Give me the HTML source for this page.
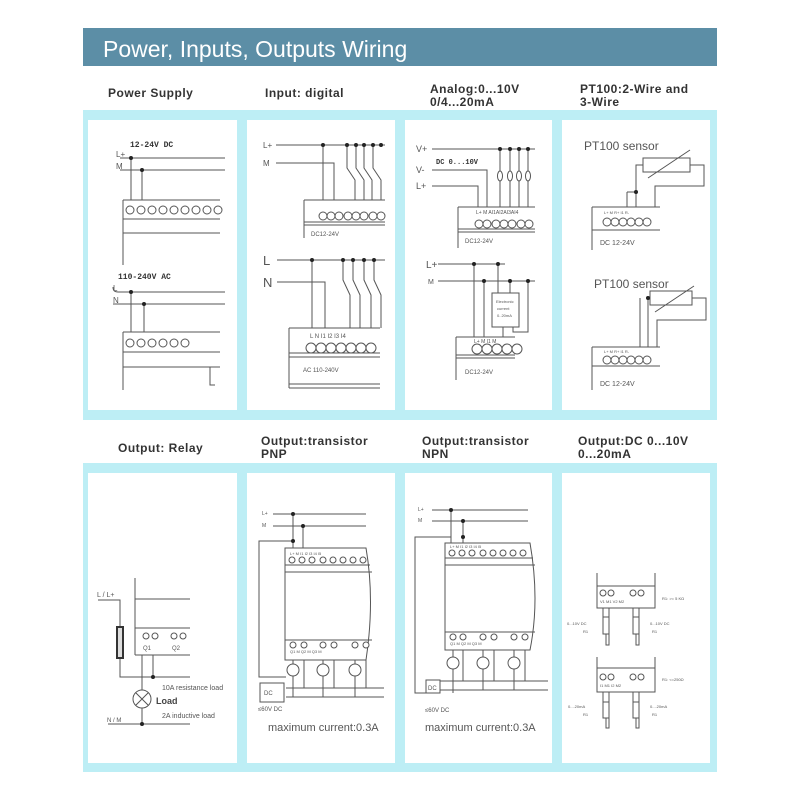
<!DOCTYPE html>
<html><head><meta charset="utf-8"><style>
html,body{margin:0;padding:0;background:#fff;}
svg{display:block;}
.lb{font-family:"Liberation Sans",sans-serif;font-weight:bold;font-size:12px;letter-spacing:0.5px;fill:#333;}
.t{font-family:"Liberation Sans",sans-serif;fill:#555;}
.m{font-family:"Liberation Mono",monospace;font-weight:bold;fill:#333;}
</style></head><body>
<svg width="800" height="800" viewBox="0 0 800 800" xmlns="http://www.w3.org/2000/svg">
<rect width="800" height="800" fill="#fff"/>
<rect x="83" y="28" width="634" height="38" fill="#5c8ea6"/>
<text x="103" y="57" font-family="Liberation Sans,sans-serif" font-size="23" fill="#fff">Power, Inputs, Outputs Wiring</text>

<text class="lb" x="108" y="97">Power Supply</text>
<text class="lb" x="265" y="97">Input: digital</text>
<text class="lb" x="430" y="93">Analog:0...10V</text>
<text class="lb" x="430" y="106">0/4...20mA</text>
<text class="lb" x="580" y="93">PT100:2-Wire and</text>
<text class="lb" x="580" y="106">3-Wire</text>
<text class="lb" x="118" y="452">Output: Relay</text>
<text class="lb" x="261" y="445">Output:transistor</text>
<text class="lb" x="261" y="458">PNP</text>
<text class="lb" x="422" y="445">Output:transistor</text>
<text class="lb" x="422" y="458">NPN</text>
<text class="lb" x="578" y="445">Output:DC 0...10V</text>
<text class="lb" x="578" y="458">0...20mA</text>

<rect x="83" y="110" width="634" height="310" fill="#bdeef5"/>
<rect x="83" y="463" width="634" height="309" fill="#bdeef5"/>
<g fill="#fff">
<rect x="88" y="120" width="149" height="290"/><rect x="247" y="120" width="148" height="290"/>
<rect x="405" y="120" width="147" height="290"/><rect x="562" y="120" width="148" height="290"/>
<rect x="88" y="473" width="149" height="290"/><rect x="247" y="473" width="148" height="290"/>
<rect x="405" y="473" width="147" height="290"/><rect x="562" y="473" width="148" height="290"/>
</g>

<g stroke="#555" stroke-width="1" fill="none">
<path d="M120 158H225M120 170H225M131 158V200M142 170V200M123 200H220M123 219H220M123 233H220M123 200V265"/>
<path d="M113 287Q113 292 118 292H225M113 304H225M131 292V332M144 304V332M123 332H220M123 352H220M123 367H220M123 332V390M210 367V385H215"/>
<path d="M276 145H385M276 163H334V200M323 145V200M304 200H385M304 222H385M304 225H385M304 200V238"/>
<path d="M347 145V168L355 180V200M356 145V168L364 180V200M364 145V168L372 180V200M373 145V168L381 180V200"/>
<path d="M277 260H385M277 282H325V328M312 260V328M289 328H380M289 353H380M289 357H380M289 384H380M289 388H380M289 328V388"/>
<path d="M343 260V280L350 295V328M353 260V280L360 295V328M364 260V280L371 295V328M374 260V280L381 295V328"/>
<path d="M432 149H535M432 170H487V207M432 186H478V207M458 207H535M458 229H535M458 232H535M458 207V248"/>
<path d="M500 149V207M510 149V207M519 149V207M528 149V207"/>
<path d="M438 264H505M438 281H535M474 264V337M484 281V337M498 264V293M510 281V293M528 281V332H513V327M456 337H515M456 355H515M456 358H515M456 337V380M503 327V337"/>
<rect x="492" y="293" width="27" height="34"/>
<rect x="643" y="158" width="47" height="14"/>
<path d="M648 178L690 150M643 165H636V207M690 165H704V186H655V207M627 192H636M627 192V207M592 207H660M592 230H660M592 207V250"/>
<rect x="650" y="291" width="42" height="14"/>
<path d="M655 312L694 286M650 298H648V347M640 298V347M692 298H706V320H657V347M592 347H660M592 366H660M592 347V390"/>
<path d="M135 578V655M135 599H190M135 628H190M135 655H190M98 600H120V677H190M142 655V690M153 655V677M142 708V724M108 724H190"/>
<circle cx="142" cy="699" r="9"/><path d="M136 693L148 705M148 693L136 705"/>
<path d="M273 514H366M273 526H366M293 514V548M303 526V548M293 541H259V677H286"/>
<path d="M285 548H366Q375 600 366 660H285ZM285 565H370M285 572H372M285 640H372"/>
<path d="M293 660V664M293 676V697M304 660V688M323 660V664M323 676V697M334 660V688M355 660V664M355 676V697M366 660V688M286 688H384M286 697H384"/>
<circle cx="293" cy="670" r="6"/><circle cx="323" cy="670" r="6"/><circle cx="355" cy="670" r="6"/>
<rect x="260" y="683" width="24" height="19"/>
<path d="M432 510H528M432 521H528M451 510V543M463 521V543M451 537H415V693H440"/>
<path d="M445 543H530Q540 600 530 650H445ZM445 558H533M445 565H535M445 632H535"/>
<path d="M453 650V657M453 669V693M463 650V681M483 650V657M483 669V690M494 650V681M514 650V657M514 669V690M525 650V681M440 681H548M440 690H548"/>
<circle cx="453" cy="663" r="6"/><circle cx="483" cy="663" r="6"/><circle cx="514" cy="663" r="6"/>
<rect x="426" y="680" width="14" height="13"/>
<path d="M597 573V608H655V573M597 586H655M603 608V617M609 608V617M633 608V617M639 608V617M606 634V645H609V634M636 634V645H639V634"/>
<rect x="603" y="617" width="6" height="17"/><rect x="633" y="617" width="6" height="17"/>
<path d="M597 657V692H655V657M597 668H655M603 692V702M609 692V702M633 692V702M639 692V702M606 718V728H609V718M636 718V728H639V718"/>
<rect x="603" y="702" width="6" height="16"/><rect x="633" y="702" width="6" height="16"/>
</g>
<rect x="117" y="627" width="6" height="31" fill="#ddd" stroke="#333" stroke-width="2"/>

<g fill="#222">
<circle cx="131" cy="158" r="2"/><circle cx="142" cy="170" r="2"/><circle cx="131" cy="292" r="2"/><circle cx="144" cy="304" r="2"/>
<circle cx="323" cy="145" r="2"/><circle cx="347" cy="145" r="2"/><circle cx="356" cy="145" r="2"/><circle cx="364" cy="145" r="2"/><circle cx="373" cy="145" r="2"/><circle cx="381" cy="145" r="2"/>
<circle cx="312" cy="260" r="2"/><circle cx="343" cy="260" r="2"/><circle cx="353" cy="260" r="2"/><circle cx="364" cy="260" r="2"/><circle cx="374" cy="260" r="2"/>
<circle cx="500" cy="149" r="2"/><circle cx="510" cy="149" r="2"/><circle cx="519" cy="149" r="2"/><circle cx="528" cy="149" r="2"/>
<circle cx="474" cy="264" r="2"/><circle cx="498" cy="264" r="2"/><circle cx="484" cy="281" r="2"/><circle cx="510" cy="281" r="2"/><circle cx="528" cy="281" r="2"/>
<circle cx="636" cy="192" r="2"/><circle cx="648" cy="298" r="2"/>
<circle cx="153" cy="677" r="2"/><circle cx="142" cy="724" r="2"/>
<circle cx="293" cy="514" r="2"/><circle cx="303" cy="526" r="2"/><circle cx="293" cy="541" r="2"/>
<circle cx="451" cy="510" r="2"/><circle cx="463" cy="521" r="2"/><circle cx="463" cy="537" r="2"/>
</g>
<g fill="#fff" stroke="#555">
<circle cx="130" cy="210" r="4"/><circle cx="141" cy="210" r="4"/><circle cx="152" cy="210" r="4"/><circle cx="163" cy="210" r="4"/><circle cx="174" cy="210" r="4"/><circle cx="185" cy="210" r="4"/><circle cx="196" cy="210" r="4"/><circle cx="207" cy="210" r="4"/><circle cx="218" cy="210" r="4"/>
<circle cx="130" cy="343" r="4"/><circle cx="141" cy="343" r="4"/><circle cx="152" cy="343" r="4"/><circle cx="163" cy="343" r="4"/><circle cx="174" cy="343" r="4"/><circle cx="185" cy="343" r="4"/>
<circle cx="323" cy="216" r="4"/><circle cx="331" cy="216" r="4"/><circle cx="339" cy="216" r="4"/><circle cx="348" cy="216" r="4"/><circle cx="356" cy="216" r="4"/><circle cx="364" cy="216" r="4"/><circle cx="373" cy="216" r="4"/><circle cx="381" cy="216" r="4"/>
<circle cx="311" cy="348" r="5"/><circle cx="321" cy="348" r="5"/><circle cx="331" cy="348" r="5"/><circle cx="341" cy="348" r="5"/><circle cx="351" cy="348" r="5"/><circle cx="361" cy="348" r="5"/><circle cx="371" cy="348" r="5"/>
<circle cx="479" cy="224" r="4"/><circle cx="487" cy="224" r="4"/><circle cx="496" cy="224" r="4"/><circle cx="504" cy="224" r="4"/><circle cx="512" cy="224" r="4"/><circle cx="521" cy="224" r="4"/><circle cx="529" cy="224" r="4"/>
<ellipse cx="500" cy="176" rx="2.5" ry="5"/><ellipse cx="510" cy="176" rx="2.5" ry="5"/><ellipse cx="519" cy="176" rx="2.5" ry="5"/><ellipse cx="528" cy="176" rx="2.5" ry="5"/>
<circle cx="477" cy="349" r="5"/><circle cx="487" cy="349" r="5"/><circle cx="497" cy="349" r="5"/><circle cx="507" cy="349" r="5"/><circle cx="517" cy="349" r="5"/>
<circle cx="607" cy="222" r="4"/><circle cx="615" cy="222" r="4"/><circle cx="623" cy="222" r="4"/><circle cx="631" cy="222" r="4"/><circle cx="639" cy="222" r="4"/><circle cx="647" cy="222" r="4"/>
<circle cx="607" cy="360" r="4"/><circle cx="615" cy="360" r="4"/><circle cx="623" cy="360" r="4"/><circle cx="631" cy="360" r="4"/><circle cx="639" cy="360" r="4"/><circle cx="647" cy="360" r="4"/>
<circle cx="146" cy="636" r="3"/><circle cx="155" cy="636" r="3"/><circle cx="174" cy="636" r="3"/><circle cx="183" cy="636" r="3"/>
<circle cx="292" cy="560" r="3"/><circle cx="302" cy="560" r="3"/><circle cx="312" cy="560" r="3"/><circle cx="323" cy="560" r="3"/><circle cx="333" cy="560" r="3"/><circle cx="343" cy="560" r="3"/><circle cx="353" cy="560" r="3"/><circle cx="363" cy="560" r="3"/>
<circle cx="293" cy="645" r="3"/><circle cx="304" cy="645" r="3"/><circle cx="323" cy="645" r="3"/><circle cx="334" cy="645" r="3"/><circle cx="355" cy="645" r="3"/><circle cx="366" cy="645" r="3"/>
<circle cx="452" cy="553" r="3"/><circle cx="462" cy="553" r="3"/><circle cx="472" cy="553" r="3"/><circle cx="483" cy="553" r="3"/><circle cx="493" cy="553" r="3"/><circle cx="503" cy="553" r="3"/><circle cx="513" cy="553" r="3"/><circle cx="523" cy="553" r="3"/>
<circle cx="453" cy="637" r="3"/><circle cx="463" cy="637" r="3"/><circle cx="483" cy="637" r="3"/><circle cx="494" cy="637" r="3"/><circle cx="514" cy="637" r="3"/><circle cx="525" cy="637" r="3"/>
<circle cx="603" cy="593" r="3"/><circle cx="611" cy="593" r="3"/><circle cx="633" cy="593" r="3"/><circle cx="641" cy="593" r="3"/>
<circle cx="603" cy="677" r="3"/><circle cx="611" cy="677" r="3"/><circle cx="633" cy="677" r="3"/><circle cx="641" cy="677" r="3"/>
</g>

<text class="m" x="130" y="147" font-size="8">12-24V DC</text>
<text class="t" x="116" y="157" font-size="8">L+</text><text class="t" x="116" y="169" font-size="8">M</text>
<text class="m" x="118" y="279" font-size="8">110-240V AC</text>
<text class="t" x="113" y="291" font-size="8">L</text><text class="t" x="113" y="303" font-size="8">N</text>
<text class="t" x="263" y="148" font-size="8">L+</text><text class="t" x="263" y="166" font-size="8">M</text>
<text class="t" x="311" y="236" font-size="6">DC12-24V</text>
<text class="t" x="263" y="265" font-size="13">L</text><text class="t" x="263" y="287" font-size="13">N</text>
<text class="t" x="310" y="338" font-size="6">L  N    I1 I2 I3 I4</text>
<text class="t" x="303" y="372" font-size="6">AC 110-240V</text>
<text class="t" x="416" y="152" font-size="9">V+</text><text class="t" x="416" y="173" font-size="9">V-</text><text class="t" x="416" y="189" font-size="9">L+</text>
<text class="m" x="436" y="164" font-size="7">DC 0...10V</text>
<text class="t" x="476" y="214" font-size="5">L+ M   AI1AI2AI3AI4</text>
<text class="t" x="465" y="243" font-size="6">DC12-24V</text>
<text class="t" x="426" y="268" font-size="10">L+</text><text class="t" x="428" y="284" font-size="7">M</text>
<text class="t" x="496" y="303" font-size="4">Electronic</text><text class="t" x="497" y="310" font-size="4">current</text><text class="t" x="497" y="317" font-size="4">0..20mA</text>
<text class="t" x="474" y="343" font-size="5">L+ M       I1 M</text>
<text class="t" x="465" y="374" font-size="6">DC12-24V</text>
<text class="t" x="584" y="150" font-size="12">PT100 sensor</text>
<text class="t" x="604" y="214" font-size="4">L+  M     R+ I1 R-</text>
<text class="t" x="600" y="245" font-size="7">DC 12-24V</text>
<text class="t" x="594" y="288" font-size="12">PT100 sensor</text>
<text class="t" x="604" y="353" font-size="4">L+  M     R+ I1 R-</text>
<text class="t" x="600" y="386" font-size="7">DC 12-24V</text>
<text class="t" x="97" y="597" font-size="7">L  / L+</text>
<text class="t" x="143" y="650" font-size="6">Q1</text><text class="t" x="172" y="650" font-size="6">Q2</text>
<text class="t" x="162" y="690" font-size="7">10A resistance load</text>
<text x="156" y="704" font-family="Liberation Sans,sans-serif" font-weight="bold" font-size="9" fill="#444">Load</text>
<text class="t" x="162" y="718" font-size="7">2A inductive load</text>
<text class="t" x="107" y="722" font-size="6">N / M</text>
<text class="t" x="262" y="515" font-size="5">L+</text><text class="t" x="262" y="527" font-size="5">M</text>
<text class="t" x="290" y="555" font-size="4">L+  M      I1 I2 I3 I4 I5</text>
<text class="t" x="290" y="653" font-size="4">Q1  M      Q2  M      Q3  M</text>
<text class="t" x="264" y="695" font-size="6">DC</text>
<text class="t" x="258" y="711" font-size="6">≤60V  DC</text>
<text class="t" x="268" y="731" font-size="11">maximum current:0.3A</text>
<text class="t" x="418" y="511" font-size="5">L+</text><text class="t" x="418" y="522" font-size="5">M</text>
<text class="t" x="450" y="548" font-size="4">L+  M      I1 I2 I3 I4 I5</text>
<text class="t" x="450" y="645" font-size="4">Q1  M      Q2  M      Q3  M</text>
<text class="t" x="428" y="690" font-size="6">DC</text>
<text class="t" x="425" y="712" font-size="6">≤60V  DC</text>
<text class="t" x="425" y="731" font-size="11">maximum current:0.3A</text>
<text class="t" x="600" y="603" font-size="4">V1 M1      V2 M2</text>
<text class="t" x="662" y="600" font-size="4">R1: &gt;= 5 KΩ</text>
<text class="t" x="567" y="625" font-size="4">0...10V DC</text><text class="t" x="583" y="633" font-size="4">R1</text>
<text class="t" x="650" y="625" font-size="4">0...10V DC</text><text class="t" x="652" y="633" font-size="4">R1</text>
<text class="t" x="600" y="687" font-size="4">I1  M1      I2  M2</text>
<text class="t" x="662" y="681" font-size="4">R1: &lt;=250Ω</text>
<text class="t" x="568" y="708" font-size="4">0....20mA</text><text class="t" x="583" y="716" font-size="4">R1</text>
<text class="t" x="650" y="708" font-size="4">0....20mA</text><text class="t" x="652" y="716" font-size="4">R1</text>
</svg>
</body></html>
